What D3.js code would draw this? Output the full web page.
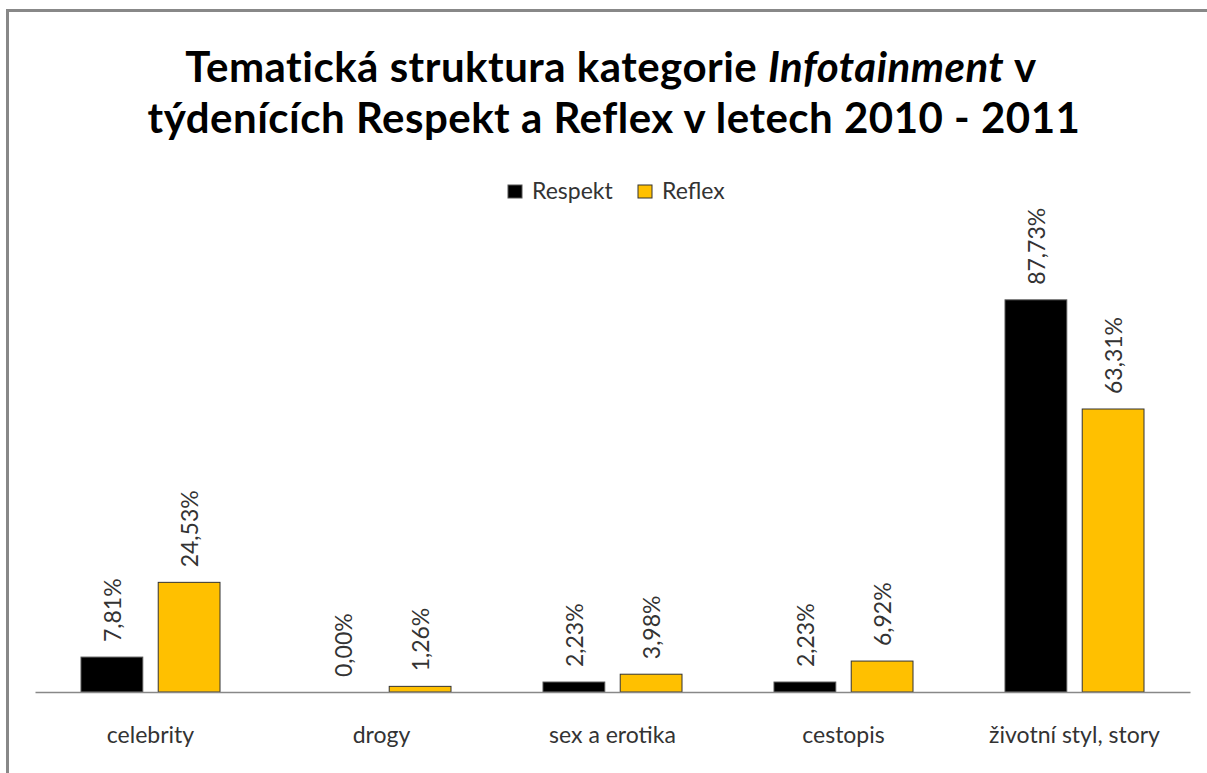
<!DOCTYPE html>
<html>
<head>
<meta charset="utf-8">
<script src="https://cdn.jsdelivr.net/npm/d3@7"></script>
<style>
  body { margin: 0; background: #fff; }
  text { font-family: Lato, "Open Sans", sans-serif; }
</style>
</head>
<body>
<script>
var categories = ['celebrity', 'drogy', 'sex a erotika', 'cestopis', 'životní styl, story'];
var series = ['Respekt', 'Reflex'];
var respekt = [7.81, 0.00, 2.23, 2.23, 87.73];
var reflex = [24.53, 1.26, 3.98, 6.92, 63.31];
var colors = ['#000000', '#FFC000'];
var strokes = ['#555555', '#333333'];

var W = 1207, H = 773;
var svg = d3.select('body').append('svg')
    .attr('width', W)
    .attr('height', H);

// frame (only top and left edges are visible in the crop)
svg.append('path')
    .attr('d', 'M7.5,' + H + 'V10.5H' + W)
    .attr('fill', 'none')
    .attr('stroke', '#888')
    .attr('stroke-width', 3);

// title
var title = svg.append('text')
    .attr('text-anchor', 'middle')
    .attr('font-size', 42)
    .attr('letter-spacing', 0.5)
    .attr('font-weight', 'bold')
    .attr('fill', '#000');
var t1 = title.append('tspan').attr('x', 611).attr('y', 82);
t1.append('tspan').text('Tematická struktura kategorie ');
t1.append('tspan').attr('font-style', 'italic').text('Infotainment');
t1.append('tspan').text(' v');
title.append('tspan').attr('x', 614).attr('y', 133).text('týdenících Respekt a Reflex v letech 2010 - 2011');

// legend
var legendX = [508, 638];
var legend = svg.selectAll('.legend').data(series).enter().append('g')
    .attr('class', 'legend')
    .attr('transform', function (d, i) { return 'translate(' + legendX[i] + ',185)'; });
legend.append('rect')
    .attr('width', 14).attr('height', 13)
    .attr('fill', function (d, i) { return colors[i]; })
    .attr('stroke', function (d, i) { return strokes[i]; });
legend.append('text')
    .attr('x', 24).attr('y', 14)
    .attr('font-size', 23)
    .attr('fill', '#333')
    .text(function (d) { return d; });

// scales
var x0 = d3.scaleBand().domain(categories).range([35, 1190]);
var x1 = d3.scaleBand().domain(series).range([46, 185]).paddingInner(0.2);
var y = d3.scaleLinear().domain([0, 100]).range([692, 245]);

var rows = categories.map(function (c, i) {
    return { cat: c, vals: [respekt[i], reflex[i]] };
});

var groups = svg.selectAll('.grp').data(rows).enter().append('g')
    .attr('class', 'grp')
    .attr('transform', function (d) { return 'translate(' + x0(d.cat) + ',0)'; });

groups.selectAll('rect').data(function (d) { return d.vals; }).enter().append('rect')
    .attr('x', function (d, i) { return x1(series[i]); })
    .attr('y', function (d) { return y(d); })
    .attr('width', x1.bandwidth())
    .attr('height', function (d) { return y(0) - y(d); })
    .attr('fill', function (d, i) { return colors[i]; })
    .attr('stroke', function (d, i) { return d > 0 ? strokes[i] : 'none'; })
    .attr('stroke-width', 1);

groups.selectAll('.lbl').data(function (d) { return d.vals; }).enter().append('text')
    .attr('class', 'lbl')
    .attr('transform', function (d, i) {
        return 'translate(' + (x1(series[i]) + x1.bandwidth() / 2 + 9) + ',' + (y(d) - 15) + ') rotate(-90)';
    })
    .attr('font-size', 23)
    .attr('fill', '#333')
    .text(function (d) { return d.toFixed(2).replace('.', ',') + '%'; });

// axis
var xAxis = d3.axisBottom(x0).tickSize(0).tickPadding(35);
var ax = svg.append('g')
    .attr('transform', 'translate(0,' + y(0) + ')')
    .call(xAxis);
ax.select('.domain').attr('stroke', '#888').attr('stroke-width', 1.5);
ax.selectAll('text')
    .attr('font-size', 23)
    .attr('font-family', 'Lato, "Open Sans", sans-serif')
    .attr('fill', '#333');
</script>
</body>
</html>
